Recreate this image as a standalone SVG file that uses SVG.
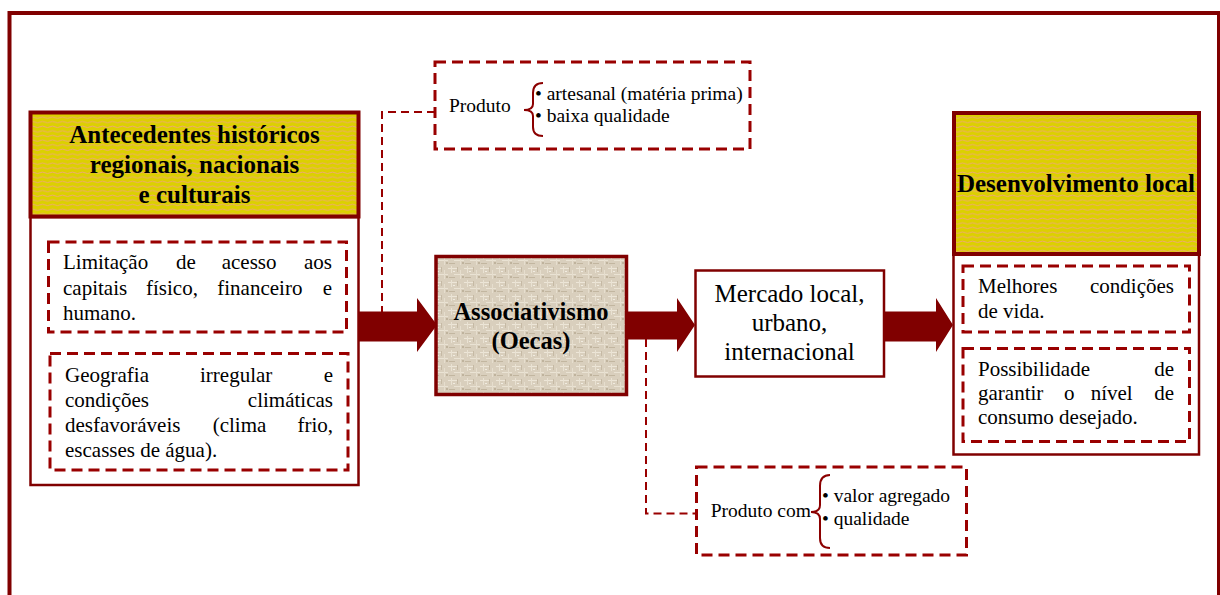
<svg xmlns="http://www.w3.org/2000/svg" width="1220" height="595" viewBox="0 0 1220 595">
<defs>
<pattern id="wave" width="10" height="4.6" patternUnits="userSpaceOnUse">
<rect width="10" height="4.6" fill="#DCD000"/>
<path d="M0,2.6 Q2.5,1.2 5,2.6 T10,2.6" fill="none" stroke="#F0A08C" stroke-width="0.8"/>
</pattern>
<pattern id="canvas" width="16" height="14" patternUnits="userSpaceOnUse">
<rect width="16" height="14" fill="#D9CFBD"/>
<rect x="0" y="2" width="9" height="1" fill="#EDE6D8"/>
<rect x="6" y="8" width="10" height="1" fill="#EAE3D4"/>
<rect x="3" y="0" width="1" height="7" fill="#E9E2D3"/>
<rect x="12" y="4" width="1" height="9" fill="#E6DECE"/>
<rect x="1" y="11" width="6" height="1" fill="#C2B6A0"/>
<rect x="9" y="1" width="1" height="5" fill="#C5B9A4"/>
<rect x="14" y="10" width="2" height="2" fill="#BFB39D"/>
<rect x="5" y="5" width="2" height="1" fill="#F1ECE1"/>
</pattern>
</defs>
<style>
.frame{fill:none;stroke:#800000;stroke-width:4}
.hdr{stroke:#800000;stroke-width:4}
.body{fill:#fff;stroke:#800000;stroke-width:2.5}
.dbox{fill:#fff;stroke:#990000;stroke-width:3;stroke-dasharray:11 6}
.conn{fill:none;stroke:#990000;stroke-width:2;stroke-dasharray:8 5}
.arrow{fill:#800000}
.brace{fill:none;stroke:#8B0000;stroke-width:2}
text{font-family:"Liberation Serif","Times New Roman",serif;fill:#000}
.hb{font-size:25px;font-weight:bold;text-anchor:middle}
.t{font-size:21px}
.e{text-anchor:end}
.s{font-size:19.5px}
.m{font-size:25px;text-anchor:middle}
</style>

<path id="frame" class="frame" d="M9.5,597 V13 H1219 V597"/>

<g id="connectors">
<path class="conn" d="M435,112 H382 V312"/>
<path class="conn" d="M646,339 V513.5 H696"/>
<polygon class="arrow" points="358,311.5 417,311.5 417,298 437,325 417,352 417,341.5 358,341.5"/>
<polygon class="arrow" points="627,311.5 677,311.5 677,298 695,325 677,352 677,339.5 627,339.5"/>
<polygon class="arrow" points="885,311.5 936,311.5 936,298 953,325 936,352 936,341.5 885,341.5"/>
</g>

<g id="antecedentes">
<rect class="body" x="30.5" y="217" width="328" height="268"/>
<rect class="hdr" x="30.5" y="112.5" width="328" height="104" fill="url(#wave)"/>
<text class="hb" x="194.5" y="143">Antecedentes históricos</text>
<text class="hb" x="194.5" y="173">regionais, nacionais</text>
<text class="hb" x="194.5" y="203">e culturais</text>
<rect class="dbox" x="48.5" y="242" width="298" height="90"/>
<text class="t" x="63" y="269">Limitação</text>
<text class="t" x="176" y="269">de</text>
<text class="t" x="221.7" y="269">acesso</text>
<text class="t e" x="332" y="269">aos</text>
<text class="t" x="63" y="295">capitais</text>
<text class="t" x="146" y="295">físico,</text>
<text class="t" x="217.3" y="295">financeiro</text>
<text class="t e" x="332" y="295">e</text>
<text class="t" x="63" y="320">humano.</text>
<rect class="dbox" x="50" y="353.5" width="298" height="116.5"/>
<text class="t" x="65" y="381.7">Geografia</text>
<text class="t" x="200" y="381.7">irregular</text>
<text class="t e" x="333" y="381.7">e</text>
<text class="t" x="65" y="406.7">condições</text>
<text class="t e" x="333" y="406.7">climáticas</text>
<text class="t" x="65" y="431.7">desfavoráveis</text>
<text class="t" x="212.7" y="431.7">(clima</text>
<text class="t e" x="333" y="431.7">frio,</text>
<text class="t" x="65" y="456.7">escasses de água).</text>
</g>

<g id="produto-top">
<rect class="dbox" x="435" y="62" width="315" height="87"/>
<text class="s" x="449" y="112">Produto</text>
<path class="brace" d="M543,83 Q533,83 533,93 L533,104 Q533,110 524,110 Q533,110 533,116 L533,127 Q533,136 543,136"/>
<text class="s" x="535" y="100">• artesanal (matéria prima)</text>
<text class="s" x="535" y="122">• baixa qualidade</text>
</g>

<g id="associativismo">
<rect x="436" y="256.5" width="190.5" height="138" fill="url(#canvas)" stroke="#800000" stroke-width="3.5"/>
<text class="hb" x="531" y="320" style="font-size:24.5px">Associativismo</text>
<text class="hb" x="531" y="349.3" style="font-size:24.5px">(Oecas)</text>
</g>

<g id="mercado">
<rect class="body" x="695.5" y="270.5" width="188.5" height="106"/>
<text class="m" x="789.5" y="301.7">Mercado local,</text>
<text class="m" x="789.5" y="330.5">urbano,</text>
<text class="m" x="789.5" y="360">internacional</text>
</g>

<g id="produto-bottom">
<rect class="dbox" x="696.5" y="467" width="270" height="88"/>
<text class="s" x="710.7" y="517.3">Produto com</text>
<path class="brace" d="M830,475 Q820,475 820,486 L820,505 Q820,512 811,512 Q820,512 820,519 L820,538 Q820,548 830,548"/>
<text class="s" x="822" y="501.7">• valor agregado</text>
<text class="s" x="822" y="525">• qualidade</text>
</g>

<g id="desenvolvimento">
<rect class="body" x="953.5" y="254" width="245.5" height="200.5"/>
<rect class="hdr" x="954" y="113" width="245" height="141" fill="url(#wave)"/>
<text class="hb" x="1076" y="191.7">Desenvolvimento local</text>
<rect class="dbox" x="963" y="266" width="226.5" height="66"/>
<text class="t" x="978" y="293.3">Melhores</text>
<text class="t e" x="1174" y="293.3">condições</text>
<text class="t" x="978" y="318.3">de vida.</text>
<rect class="dbox" x="963" y="348.5" width="226.5" height="93"/>
<text class="t" x="978" y="376">Possibilidade</text>
<text class="t e" x="1174" y="376">de</text>
<text class="t" x="978" y="400">garantir</text>
<text class="t" x="1064" y="400">o</text>
<text class="t" x="1090.7" y="400">nível</text>
<text class="t e" x="1174" y="400">de</text>
<text class="t" x="978" y="424">consumo desejado.</text>
</g>
</svg>
